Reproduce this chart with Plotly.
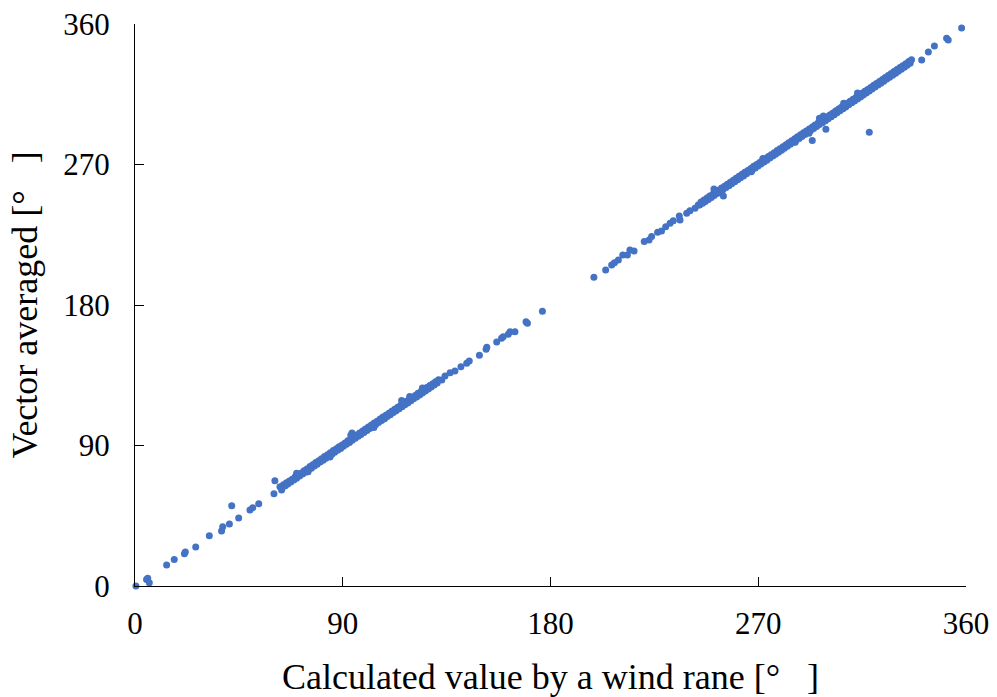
import plotly.graph_objects as go

# ---- data (degrees) ----
sparse_low = [
    (0.4, 0.0), (5.0, 4.2), (5.5, 4.9), (6.2, 2.1), (13.7, 13.5), (17.0, 16.9),
    (21.4, 20.7), (21.8, 21.8), (26.3, 25.0), (32.2, 32.2), (37.5, 35.2), (38.0, 38.0),
    (40.9, 39.7), (41.9, 51.4), (44.9, 43.6), (49.8, 48.7), (51.0, 50.2), (53.6, 52.7),
    (60.2, 59.1), (60.6, 67.5), (62.8, 63.6), (63.5, 61.5),
]

band_a = [
    (63.8, 63.0), (64.3, 64.9), (65.1, 64.2), (65.6, 66.1), (66.2, 65.4), (66.9, 67.3), (67.5, 66.6), (68.1, 68.4), (68.8, 67.9), (69.4, 70.0),
    (70.0, 69.1), (70.7, 71.2), (71.3, 70.4), (71.9, 72.3), (72.6, 71.8), (73.2, 73.9), (73.9, 72.9), (74.5, 75.0), (75.1, 74.3), (75.8, 76.6),
    (76.4, 75.5), (77.0, 77.6), (77.7, 76.9), (78.3, 79.1), (78.9, 78.0), (79.6, 80.3), (80.2, 79.4), (80.8, 81.5), (81.5, 80.6), (82.1, 82.9),
    (82.7, 81.9), (83.4, 84.1), (84.0, 83.2), (84.6, 85.3), (85.3, 84.4), (85.9, 86.8), (86.5, 85.6), (87.2, 87.9), (87.8, 87.0), (88.4, 89.2),
    (89.1, 88.1), (89.7, 90.4), (90.3, 89.5), (91.0, 91.6), (91.6, 90.8), (92.2, 93.0), (92.9, 92.0), (93.5, 94.2), (94.1, 93.3), (94.8, 95.4),
    (95.4, 94.6), (96.0, 96.8), (96.7, 95.9), (97.3, 98.0), (97.9, 97.1), (98.6, 99.3), (99.2, 98.4), (99.8, 100.6), (100.5, 99.6), (101.1, 101.8),
    (101.7, 100.9), (102.4, 103.1), (103.0, 102.2), (103.6, 104.4), (104.3, 103.4), (104.9, 105.6), (105.5, 104.7), (106.2, 106.9), (106.8, 106.0), (107.4, 108.2),
    (108.1, 107.2), (108.7, 109.4), (109.3, 108.5), (110.0, 110.7), (110.6, 109.7), (111.2, 112.0), (111.9, 111.1), (112.5, 113.2), (113.1, 112.3), (113.8, 114.5),
    (114.4, 113.6), (115.0, 115.7), (115.7, 114.8), (116.3, 117.0), (116.9, 116.1), (117.6, 118.3), (118.2, 117.3), (118.8, 119.5), (119.5, 118.6), (120.1, 120.8),
    (120.7, 119.9), (121.4, 122.1), (122.0, 121.1), (122.6, 123.4), (123.3, 122.4), (123.9, 124.6), (124.5, 123.7), (125.2, 125.9), (125.8, 124.9), (126.4, 127.2),
    (127.1, 126.2), (127.7, 128.4), (128.3, 127.5), (129.0, 129.6), (129.6, 128.8), (130.2, 130.9), (130.9, 130.1), (131.5, 132.1),
    (94.0, 98.0), (93.5, 96.5), (84.5, 82.6), (115.5, 118.9), (119.0, 121.4), (124.5, 126.8), (103.5, 101.6), (75.0, 73.2), (70.0, 72.2),
]

sparse_mid = [
    (132.9, 132.0), (134.3, 134.5), (136.5, 136.6), (138.6, 137.7), (141.2, 140.5), (143.7, 142.7),
    (144.8, 144.1), (149.2, 147.8), (152.1, 151.6), (152.4, 152.9), (156.7, 156.3), (158.8, 158.7),
    (159.5, 159.7), (161.7, 161.2), (162.5, 162.9), (164.6, 162.9), (169.4, 169.3), (170.0, 168.3),
    (176.5, 176.0),
    (198.8, 197.8), (203.9, 202.4), (206.5, 205.6), (207.7, 207.1), (209.4, 208.8), (211.3, 212.0),
    (213.3, 212.0), (214.4, 215.2), (216.2, 214.6), (220.6, 220.6), (222.7, 221.6), (223.8, 223.8),
    (226.4, 226.6), (228.1, 227.4), (229.9, 230.2), (231.8, 232.3), (233.2, 234.0), (235.8, 237.0),
    (236.1, 234.5), (239.0, 238.8), (240.4, 240.4), (242.6, 242.0), (244.0, 244.1),
]

band_b = [
    (244.6, 244.0), (245.2, 245.9), (245.9, 245.1), (246.5, 247.2), (247.1, 246.3), (247.8, 248.5), (248.4, 247.6), (249.0, 249.8), (249.7, 248.9), (250.3, 251.0),
    (250.9, 250.1), (251.6, 252.3), (252.2, 251.4), (252.8, 253.5), (253.5, 252.6), (254.1, 254.9), (254.7, 253.9), (255.4, 256.1), (256.0, 255.2), (256.6, 257.4),
    (257.3, 256.4), (257.9, 258.6), (258.5, 257.7), (259.2, 259.9), (259.8, 258.9), (260.4, 261.2), (261.1, 260.2), (261.7, 262.4), (262.3, 261.5), (263.0, 263.7),
    (263.6, 262.7), (264.2, 265.0), (264.9, 264.0), (265.5, 266.2), (266.1, 265.3), (266.8, 267.5), (267.4, 266.5), (268.0, 268.8), (268.7, 267.8), (269.3, 270.0),
    (269.9, 269.0), (270.6, 271.3), (271.2, 270.3), (271.8, 272.5), (272.5, 271.6), (273.1, 273.8), (273.7, 272.8), (274.4, 275.1), (275.0, 274.1), (275.6, 276.3),
    (276.3, 275.4), (276.9, 277.6), (277.5, 276.6), (278.2, 278.9), (278.8, 277.9), (279.4, 280.1), (280.1, 279.2), (280.7, 281.4), (281.3, 280.4), (282.0, 282.7),
    (282.6, 281.7), (283.2, 283.9), (283.9, 283.0), (284.5, 285.2), (285.1, 284.2), (285.8, 286.5), (286.4, 285.5), (287.0, 287.7), (287.7, 286.7), (288.3, 289.0),
    (288.9, 288.0), (289.6, 290.3), (290.2, 289.2), (290.8, 291.5), (291.5, 290.5), (292.1, 292.8), (292.7, 291.8), (293.4, 294.1), (294.0, 293.0), (294.6, 295.3),
    (295.3, 294.3), (295.9, 296.6), (296.5, 295.6), (297.2, 297.9), (297.8, 296.8), (298.4, 299.1), (299.1, 298.1), (299.7, 300.4), (300.3, 299.3), (301.0, 301.7),
    (301.6, 300.6), (302.2, 302.9), (302.9, 301.9), (303.5, 304.2), (304.1, 303.1), (304.8, 305.5), (305.4, 304.4), (306.0, 306.7), (306.7, 305.7), (307.3, 308.0),
    (307.9, 306.9), (308.6, 309.3), (309.2, 308.2), (309.8, 310.5), (310.5, 309.5), (311.1, 311.8), (311.7, 310.7), (312.4, 313.1), (313.0, 312.0), (313.6, 314.3),
    (314.3, 313.3), (314.9, 315.6), (315.5, 314.5), (316.2, 316.9), (316.8, 315.8), (317.4, 318.1), (318.1, 317.1), (318.7, 319.4), (319.3, 318.3), (320.0, 320.7),
    (320.6, 319.6), (321.2, 321.9), (321.9, 320.9), (322.5, 323.2), (323.1, 322.1), (323.8, 324.5), (324.4, 323.4), (325.0, 325.7), (325.7, 324.7), (326.3, 327.0),
    (326.9, 325.9), (327.6, 328.3), (328.2, 327.2), (328.8, 329.5), (329.5, 328.5), (330.1, 330.8), (330.7, 329.7), (331.4, 332.1), (332.0, 331.0), (332.6, 333.3),
    (333.3, 332.3), (333.9, 334.6), (334.5, 333.5), (335.2, 335.9), (335.8, 334.8), (336.4, 337.1),
    (250.8, 254.3), (296.5, 299.6), (298.2, 301.1), (292.0, 290.0), (272.0, 273.9), (307.0, 309.2),
    (313.0, 315.8), (267.0, 265.3), (286.0, 284.2), (254.9, 249.8),
]

sparse_high = [
    (340.8, 337.0), (343.7, 342.1), (346.3, 345.9), (351.6, 350.8), (352.3, 349.8), (358.1, 357.5),
    (293.4, 285.3), (299.3, 292.6), (318.1, 290.6),
]

tick_vals = [0, 90, 180, 270, 360]
tick_text = ["0", "90", "180", "270", "360"]
x_title = "Calculated value by a wind rane [°\u00a0\u00a0\u00a0]"
y_title = "Vector averaged [°\u00a0\u00a0\u00a0]"

points = sparse_low + band_a + sparse_mid + band_b + sparse_high
xs = [p[0] for p in points]
ys = [p[1] for p in points]

fig = go.Figure(go.Scatter(
    x=xs, y=ys, mode="markers",
    marker=dict(size=7, color="#4472C4", line=dict(width=0)),
    cliponaxis=False, showlegend=False,
))

font_family = "Liberation Serif, Times New Roman, serif"
axis_common = dict(
    range=[0, 360], tickvals=tick_vals, ticktext=tick_text,
    showline=True, linecolor="black", linewidth=1.3,
    ticks="inside", ticklen=9, tickwidth=1.3, tickcolor="black",
    showgrid=False, zeroline=False, automargin=False,
    tickfont=dict(family=font_family, size=31, color="black"),
)

fig.update_layout(
    width=997, height=697,
    margin=dict(l=135, r=31, t=24, b=111),
    paper_bgcolor="white", plot_bgcolor="white",
    font=dict(family=font_family, color="black"),
    xaxis=dict(**axis_common, ticklabelstandoff=10,
               title=dict(text=x_title, font=dict(size=36, family=font_family, color="black"), standoff=23)),
    yaxis=dict(**axis_common, ticklabelstandoff=18,
               title=dict(text=y_title, font=dict(size=36, family=font_family, color="black"), standoff=14)),
)

fig.write_html("out.html", config={"displayModeBar": False},
               post_script="document.body.style.margin='0';")
